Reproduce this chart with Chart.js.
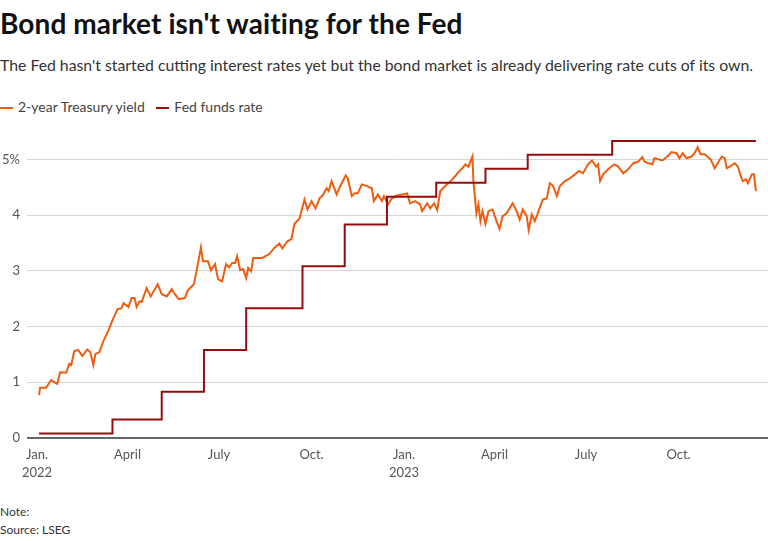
<!DOCTYPE html>
<html>
<head>
<meta charset="utf-8">
<script src="https://cdn.jsdelivr.net/npm/chart.js@4"></script>
<style>
  body { margin: 0; width: 768px; height: 541px; background: #fff; font-family: Lato, "Noto Sans", sans-serif; color: #222; overflow: hidden; position: relative; }
  #title { position: absolute; left: 0; top: 6px; font-size: 28px; font-weight: 700; color: #111; white-space: nowrap; letter-spacing: 0.1px; }
  #subtitle { position: absolute; left: 0; top: 55px; font-size: 15.8px; color: #333; white-space: nowrap; }
  #legend { position: absolute; left: 0; top: 98px; font-size: 14px; color: #444; white-space: nowrap; }
  #legend span.key { display: inline-block; width: 13px; height: 2px; vertical-align: middle; margin-right: 5px; }
  #legend span.item { margin-right: 8px; }
  #wrap { position: absolute; left: 0; top: 120px; width: 768px; height: 365px; }
  #notes { position: absolute; left: 0; top: 503px; font-size: 12px; color: #333; line-height: 18px; }
</style>
</head>
<body>
<div id="title">Bond market isn't waiting for the Fed</div>
<div id="subtitle">The Fed hasn't started cutting interest rates yet but the bond market is already delivering rate cuts of its own.</div>
<div id="legend">
  <span class="item"><span class="key" style="background:#ee5d10"></span>2-year Treasury yield</span>
  <span class="item"><span class="key" style="background:#950c0c"></span>Fed funds rate</span>
</div>
<div id="wrap"><canvas id="chart"></canvas></div>
<div id="notes">Note:<br>Source: LSEG</div>
<script>
// days counted from Jan. 1, 2022
const yieldDays = [2, 3, 9, 14, 20, 23, 29, 32, 34, 37, 41, 45, 50, 53, 56, 58, 62, 66, 71, 75, 80, 84, 86, 91, 94, 97, 99, 102, 104, 109, 113, 120, 124, 129, 134, 137, 141, 147, 150, 156, 159, 163, 165, 170, 173, 177, 180, 184, 188, 191, 194, 197, 199, 202, 205, 208, 210, 213, 215, 219, 224, 231, 236, 241, 244, 249, 253, 256, 261, 266, 269, 273, 277, 281, 284, 288, 290, 293, 298, 301, 307, 309, 313, 316, 319, 323, 328, 333, 335, 339, 343, 345, 349, 353, 358, 363, 368, 371, 376, 381, 383, 388, 391, 395, 398, 401, 406, 411, 416, 419, 423, 426, 429, 433, 434, 437, 439, 441, 443, 446, 449, 453, 457, 460, 463, 467, 470, 473, 477, 480, 483, 487, 489, 492, 495, 498, 503, 507, 510, 513, 517, 520, 525, 530, 535, 539, 543, 548, 552, 556, 558, 560, 563, 568, 574, 578, 583, 588, 593, 598, 602, 604, 608, 612, 614, 618, 622, 628, 631, 636, 639, 642, 646, 651, 654, 657, 660, 664, 667, 670, 674, 677, 681, 684, 686, 689, 694, 697, 700, 702, 705, 707, 711, 713, 715];
const yieldValues = [0.77, 0.90, 0.90, 1.04, 0.97, 1.18, 1.17, 1.33, 1.31, 1.56, 1.58, 1.47, 1.59, 1.54, 1.31, 1.51, 1.54, 1.74, 1.93, 2.11, 2.31, 2.33, 2.42, 2.35, 2.51, 2.51, 2.35, 2.45, 2.44, 2.69, 2.54, 2.76, 2.58, 2.54, 2.67, 2.58, 2.49, 2.51, 2.65, 2.76, 3.03, 3.42, 3.17, 3.17, 3.01, 3.12, 2.85, 2.81, 3.12, 3.06, 3.14, 3.14, 3.26, 3.01, 3.03, 2.87, 3.05, 2.99, 3.23, 3.23, 3.23, 3.30, 3.41, 3.49, 3.40, 3.53, 3.57, 3.84, 3.94, 4.28, 4.10, 4.25, 4.12, 4.30, 4.35, 4.48, 4.43, 4.61, 4.37, 4.50, 4.71, 4.66, 4.34, 4.39, 4.39, 4.55, 4.52, 4.48, 4.25, 4.37, 4.25, 4.34, 4.19, 4.30, 4.35, 4.37, 4.39, 4.21, 4.25, 4.19, 4.07, 4.21, 4.12, 4.21, 4.09, 4.43, 4.52, 4.60, 4.70, 4.77, 4.84, 4.91, 4.87, 5.05, 4.61, 4.03, 4.19, 3.89, 4.07, 3.84, 4.07, 4.10, 3.89, 3.75, 3.98, 4.03, 4.12, 4.21, 4.07, 3.92, 4.10, 3.98, 3.73, 4.01, 3.89, 4.03, 4.28, 4.30, 4.57, 4.53, 4.34, 4.52, 4.61, 4.66, 4.73, 4.79, 4.75, 4.91, 4.98, 4.87, 4.91, 4.61, 4.73, 4.82, 4.91, 4.87, 4.75, 4.82, 4.93, 4.96, 5.04, 4.96, 4.93, 4.91, 5.02, 5.00, 4.98, 5.07, 5.13, 5.11, 5.02, 5.11, 5.02, 5.05, 5.11, 5.22, 5.09, 5.09, 5.04, 5.00, 4.84, 4.93, 5.05, 5.02, 4.84, 4.87, 4.93, 4.87, 4.70, 4.61, 4.64, 4.57, 4.73, 4.73, 4.43];

const fedDays = [2, 75, 124, 166, 208, 264, 306, 348, 397, 446, 488, 572, 715];
const fedValues = [0.08, 0.33, 0.83, 1.58, 2.33, 3.08, 3.83, 4.33, 4.58, 4.83, 5.08, 5.33, 5.33];

const tickDays = [0, 90, 181, 273, 365, 455, 546, 638];
const tickLabels = [['Jan.', '2022'], 'April', 'July', 'Oct.', ['Jan.', '2023'], 'April', 'July', 'Oct.'];
const yTicks = [0, 1, 2, 3, 4, 5];

const FONT = 'Lato, "Noto Sans", sans-serif';

new Chart(document.getElementById('chart'), {
	type: 'line',
	data: {
		datasets: [{
			label: 'Fed funds rate',
			data: fedDays.map((d, i) => ({x: d, y: fedValues[i]})),
			borderColor: '#950c0c',
			borderWidth: 2,
			stepped: true,
			pointRadius: 0
		}, {
			label: '2-year Treasury yield',
			data: yieldDays.map((d, i) => ({x: d, y: yieldValues[i]})),
			borderColor: '#ee5d10',
			borderWidth: 2,
			tension: 0,
			pointRadius: 0
		}]
	},
	options: {
		responsive: true,
		maintainAspectRatio: false,
		animation: false,
		layout: {padding: {top: 6, right: 0, left: 0, bottom: 0}},
		plugins: {legend: {display: false}, tooltip: {enabled: false}},
		scales: {
			x: {
				type: 'linear',
				min: -10,
				max: 727,
				afterBuildTicks: axis => { axis.ticks = tickDays.map(v => ({value: v})); },
				afterFit: axis => { axis.height = 47; },
				ticks: {
					autoSkip: false,
					maxRotation: 0,
					padding: 8,
					color: '#555',
					font: {family: FONT, size: 13, lineHeight: 1.35},
					callback: (v, i) => tickLabels[i]
				},
				grid: {display: false, drawTicks: false},
				border: {display: false}
			},
			y: {
				min: 0,
				max: 5.44,
				afterBuildTicks: axis => { axis.ticks = yTicks.map(v => ({value: v})); },
				afterFit: axis => { axis.width = 27; },
				ticks: {
					padding: 7,
					color: '#555',
					font: {family: FONT, size: 13},
					callback: v => v === 5 ? '5%' : String(v)
				},
				grid: {
					drawTicks: false,
					color: ctx => ctx.tick && ctx.tick.value === 0 ? '#666' : '#d6d6d6',
					lineWidth: ctx => ctx.tick && ctx.tick.value === 0 ? 2 : 1
				},
				border: {display: false}
			}
		}
	}
});
</script>
</body>
</html>
